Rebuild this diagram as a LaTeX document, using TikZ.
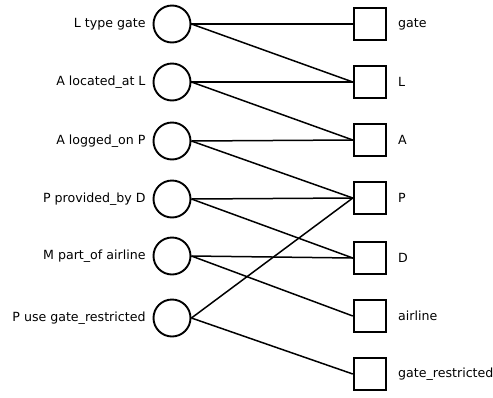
\documentclass[tikz,border=0pt]{standalone}
\usepackage{fontspec}
\setmainfont{DejaVu Sans}
\usepackage{tikz}
\usetikzlibrary{positioning}

\begin{document}
\begin{tikzpicture}[x=1pt,y=-1pt,font=\fontsize{12.6}{15}\selectfont,
        rel/.style={circle,draw,line width=1.9pt,minimum size=37pt,inner sep=0pt},
        ent/.style={rectangle,draw,line width=1.9pt,minimum size=32.5pt,inner sep=0pt},
        lname/.style={label={[label distance=3.5pt]left:#1}},
        rname/.style={label={[label distance=7.5pt]right:#1}}]
    \useasboundingbox (0,0) rectangle (493,397);
        % relations
        \node[rel,lname={L type gate}] (ltype) at (172,24) {};
        \node[rel,lname={A located\_at L}] (locat) at (172,82) {};
        \node[rel,lname={A logged\_on P}] (logon) at (172,141) {};
        \node[rel,lname={P provided\_by D}] (provby) at (172,199) {};
        \node[rel,lname={M part\_of airline}] (partof) at (172,256) {};
        \node[rel,lname={P use gate\_restricted}] (usegate) at (172,318) {};
        % entities
        \node[ent,rname={gate}] (gate) at (370,24) {};
        \node[ent,rname={L}] (L) at (370,82) {};
        \node[ent,rname={A}] (A) at (370,140) {};
        \node[ent,rname={P}] (P) at (370,198) {};
        \node[ent,rname={D}] (D) at (370,258) {};
        \node[ent,rname={airline}] (airline) at (370,316) {};
        \node[ent,rname={gate\_restricted}] (gaterestr) at (370,374) {};
	\draw[every edge/.append style={line width=1.5pt}]
			(ltype.east) edge (gate.west)
			(ltype.east) edge (L.west)
			(locat.east) edge (L.west)
			(locat.east) edge (A.west)
			(logon.east) edge (A.west)
			(logon.east) edge (P.west)
			(provby.east) edge (P.west)
			(provby.east) edge (D.west)
			(partof.east) edge (D.west)
			(partof.east) edge (airline.west)
			(usegate.east) edge (P.west)
			(usegate.east) edge (gaterestr.west);
    \end{tikzpicture}
\end{document}
